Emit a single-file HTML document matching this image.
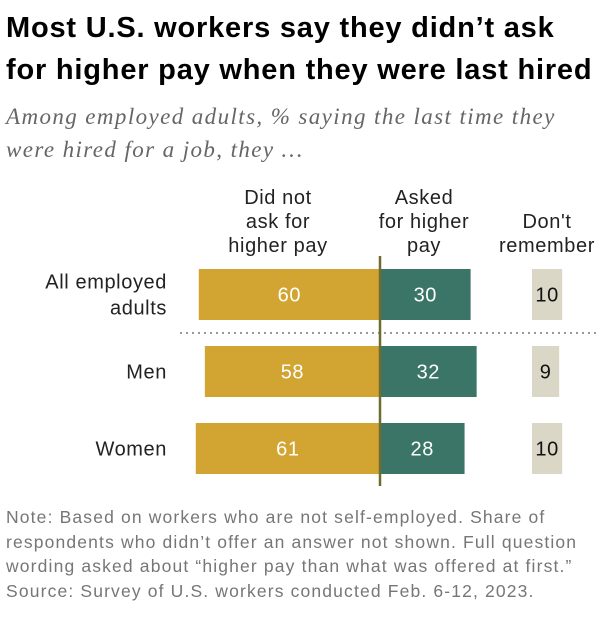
<!DOCTYPE html>
<html><head><meta charset="utf-8"><style>
body{margin:0;background:#fff;width:610px;height:617px;overflow:hidden;font-family:"Liberation Sans",sans-serif;position:relative}
.t{position:absolute;left:6px;font-weight:bold;font-size:29px;color:#000;letter-spacing:0.8px;white-space:nowrap}
.s{position:absolute;left:6px;font-family:"Liberation Serif",serif;font-style:italic;font-size:23px;color:#666;letter-spacing:1.4px;white-space:nowrap}
.n{position:absolute;left:6px;font-size:17.5px;color:#767676;line-height:24.5px;letter-spacing:1.15px;white-space:nowrap}
</style></head><body>
<div class="t" style="top:12px">Most U.S. workers say they didn’t ask</div>
<div class="t" style="top:54px">for higher pay when they were last hired</div>
<div class="s" style="top:100px;line-height:33px">Among employed adults, % saying the last time they<br>were hired for a job, they …</div>
<svg id="chart" width="610" height="617" style="position:absolute;left:0;top:0" font-family="Liberation Sans, sans-serif" letter-spacing="0.6"></svg>
<div class="n" style="top:505px">Note: Based on workers who are not self-employed. Share of<br>respondents who didn’t offer an answer not shown. Full question<br>wording asked about “higher pay than what was offered at first.”<br>Source: Survey of U.S. workers conducted Feb. 6-12, 2023.</div>
<script>
const categories=[["All employed","adults"],["Men"],["Women"]];
const didNotAsk=[60,58,61];
const asked=[30,32,28];
const dontRemember=[10,9,10];
const headers=[["Did not","ask for","higher pay"],["Asked","for higher","pay"],["Don't","remember"]];
const svg=document.getElementById('chart');const NS='http://www.w3.org/2000/svg';
const cx=380,k=3.02,drX=532,rowY=[269,346,423],bh=51;
function el(t,a,txt){const e=document.createElementNS(NS,t);for(const q in a)e.setAttribute(q,a[q]);if(txt!==undefined)e.textContent=txt;svg.appendChild(e);return e;}
const hx=[278,424,547],hy=[[203,227,251],[203,227,251],[227,251]];
headers.forEach((h,i)=>{h.forEach((l,j)=>{const e=el('text',{x:hx[i],y:hy[i][j]+1,'text-anchor':'middle','font-size':'20',fill:'#222'},l);});});
categories.forEach((c,i)=>{
 const y=rowY[i];
 c.forEach((l,j)=>{const ly=c.length==1?y+bh/2+7:y+bh/2-6+j*26;const e=el('text',{x:167,y:ly,'text-anchor':'end','font-size':'20',fill:'#222'},l);});
 const w1=didNotAsk[i]*k;
 let r=el('rect',{x:cx-w1,y:y,width:w1,height:bh,fill:'#D2A533'});
 let t=el('text',{x:cx-w1/2,y:y+bh/2+7,'text-anchor':'middle','font-size':'20',fill:'#fff'},didNotAsk[i]);
 const w2=asked[i]*k;
 r=el('rect',{x:cx,y:y,width:w2,height:bh,fill:'#3A7567'});
 t=el('text',{x:cx+w2/2,y:y+bh/2+7,'text-anchor':'middle','font-size':'20',fill:'#fff'},asked[i]);
 const w3=dontRemember[i]*k;
 r=el('rect',{x:drX,y:y,width:w3,height:bh,fill:'#DAD7C6'});
 t=el('text',{x:drX+w3/2,y:y+bh/2+7,'text-anchor':'middle','font-size':'20',fill:'#111'},dontRemember[i]);
});
let d=el('line',{x1:180,x2:600,y1:333,y2:333,stroke:'#999','stroke-width':2,'stroke-dasharray':'2,4'});
let z=el('line',{x1:cx,x2:cx,y1:256,y2:486,stroke:'#6F6C2E','stroke-width':2.5});
</script>
</body></html>
